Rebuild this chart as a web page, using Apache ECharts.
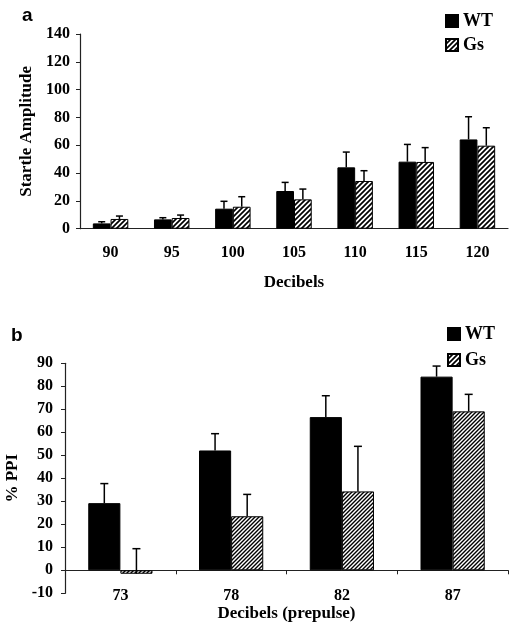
<!DOCTYPE html>
<html>
<head>
<meta charset="utf-8">
<script src="https://cdn.jsdelivr.net/npm/echarts@6/dist/echarts.min.js"></script>
<style>
html,body{margin:0;padding:0;background:#fff;}
#chart{width:518px;height:633px;}
</style>
</head>
<body>
<div id="chart"></div>
<script>
// Panel a: startle amplitude
var catsA = ['90', '95', '100', '105', '110', '115', '120'];
var wtA = [3.8, 6.7, 14.4, 27.1, 44.1, 48.2, 64.2];
var wtAse = [1.2, 1.2, 5.3, 6.2, 11.0, 12.4, 16.3];
var gsA = [7.0, 7.7, 15.8, 21.1, 34.3, 48.0, 59.7];
var gsAse = [2.1, 2.1, 7.2, 7.4, 7.4, 10.3, 12.9];
var ticksA = [0, 140, 20];

// Panel b: % PPI
var catsB = ['73', '78', '82', '87'];
var wtB = [29.2, 52.1, 66.6, 84.2];
var wtBse = [8.5, 7.3, 9.3, 4.6];
var gsB = [-1.5, 23.5, 34.3, 69.1];
var gsBse = [10.9, 9.5, 19.6, 7.4];
var ticksB = [-10, 90, 10];

var SERIF = '"Liberation Serif", "Times New Roman", serif';
var BW = 0.29;

function hatch(size, lw) {
  var c = document.createElement('canvas');
  c.width = size; c.height = size;
  var ctx = c.getContext('2d');
  ctx.fillStyle = '#fff';
  ctx.fillRect(0, 0, size, size);
  ctx.strokeStyle = '#000';
  ctx.lineWidth = lw;
  ctx.beginPath();
  ctx.moveTo(0, size); ctx.lineTo(size, 0);
  ctx.moveTo(-size, size); ctx.lineTo(size, -size);
  ctx.moveTo(0, 2 * size); ctx.lineTo(2 * size, 0);
  ctx.stroke();
  return c;
}
var patA = {image: hatch(5, 1.7), repeat: 'repeat'};
var patB = {image: hatch(4, 1.4), repeat: 'repeat'};

function errSeries(name, idx, vals, ses, side, cap) {
  var data = vals.map(function (v, i) { return [i, v, v + ses[i]]; });
  return {
    type: 'custom', name: name + ' err', xAxisIndex: idx, yAxisIndex: idx, z: 5,
    silent: true,
    encode: {x: 0, y: [1, 2]},
    data: data,
    renderItem: function (params, api) {
      var band = api.size([1, 0])[0];
      var bw = band * BW;
      var p0 = api.coord([api.value(0), api.value(1)]);
      var p1 = api.coord([api.value(0), api.value(2)]);
      var x = p0[0] + side * bw / 2;
      var st = {stroke: '#000', lineWidth: 1.5};
      return {
        type: 'group',
        children: [
          {type: 'line', shape: {x1: x, y1: p0[1], x2: x, y2: p1[1]}, style: st},
          {type: 'line', shape: {x1: x - cap / 2, y1: p1[1], x2: x + cap / 2, y2: p1[1]}, style: st}
        ]
      };
    }
  };
}

var labelStyle = {color: '#000', fontFamily: SERIF, fontWeight: 'bold', fontSize: 16};
var nameStyle = {color: '#000', fontFamily: SERIF, fontWeight: 'bold', fontSize: 17};
var lineStyle = {color: '#222', width: 1.2};
var legendText = {color: '#000', fontFamily: SERIF, fontWeight: 'bold', fontSize: 18};

var option = {
  animation: false,
  backgroundColor: '#fff',
  title: [
    {text: 'a', left: 17, top: 1, textStyle: {fontFamily: '"Liberation Sans", Arial, sans-serif', fontWeight: 'bold', fontSize: 19, color: '#000'}},
    {text: 'b', left: 6, top: 321, textStyle: {fontFamily: '"Liberation Sans", Arial, sans-serif', fontWeight: 'bold', fontSize: 19, color: '#000'}}
  ],
  legend: [
    {data: ['WT', 'Gs'], orient: 'vertical', left: 445, top: 12, padding: 0, itemWidth: 12, itemHeight: 12, itemGap: 6,
     icon: 'rect', textStyle: legendText, selectedMode: false},
    {data: ['WT', 'Gs'], orient: 'vertical', left: 447, top: 325, padding: 0, itemWidth: 12, itemHeight: 12, itemGap: 8,
     icon: 'rect', textStyle: legendText, selectedMode: false}
  ],
  grid: [
    {left: 80, right: 10, top: 34, height: 194.7, outerBoundsMode: 'none', containLabel: false},
    {left: 65, right: 10, top: 363.3, height: 230, outerBoundsMode: 'none', containLabel: false}
  ],
  xAxis: [
    {type: 'category', gridIndex: 0, data: catsA,
     axisLine: {lineStyle: lineStyle}, axisTick: {show: false},
     axisLabel: Object.assign({margin: 16}, labelStyle),
     name: 'Decibels', nameLocation: 'middle', nameGap: 45, nameTextStyle: nameStyle},
    {type: 'category', gridIndex: 1, data: catsB,
     axisLine: {onZero: true, lineStyle: lineStyle}, axisTick: {show: true, length: 4, lineStyle: {color: '#222'}},
     axisLabel: Object.assign({margin: -5}, labelStyle),
     name: 'Decibels (prepulse)', nameLocation: 'middle', nameGap: 12, nameTextStyle: nameStyle}
  ],
  yAxis: [
    {type: 'value', gridIndex: 0, min: ticksA[0], max: ticksA[1], interval: ticksA[2],
     axisLine: {show: true, lineStyle: lineStyle}, axisTick: {show: true, length: 4, lineStyle: {color: '#222'}},
     splitLine: {show: false}, axisLabel: Object.assign({margin: 10}, labelStyle),
     name: 'Startle Amplitude', nameLocation: 'middle', nameGap: 41, nameRotate: 90, nameTextStyle: nameStyle},
    {type: 'value', gridIndex: 1, min: ticksB[0], max: ticksB[1], interval: ticksB[2],
     axisLine: {show: true, onZero: false, lineStyle: lineStyle}, axisTick: {show: true, length: 4, lineStyle: {color: '#222'}},
     splitLine: {show: false}, axisLabel: Object.assign({margin: 12}, labelStyle),
     name: '% PPI', nameLocation: 'middle', nameGap: 41, nameRotate: 90, nameTextStyle: nameStyle}
  ],
  series: [
    {type: 'bar', name: 'WT', xAxisIndex: 0, yAxisIndex: 0, data: wtA, barWidth: '29%', barGap: '0%',
     itemStyle: {color: '#000', borderColor: '#000', borderWidth: 1}},
    {type: 'bar', name: 'Gs', xAxisIndex: 0, yAxisIndex: 0, data: gsA, barWidth: '29%', barGap: '0%',
     itemStyle: {color: patA, borderColor: '#000', borderWidth: 1}},
    {type: 'bar', name: 'WT', xAxisIndex: 1, yAxisIndex: 1, data: wtB, barWidth: '29%', barGap: '0%',
     itemStyle: {color: '#000', borderColor: '#000', borderWidth: 1}},
    {type: 'bar', name: 'Gs', xAxisIndex: 1, yAxisIndex: 1, data: gsB, barWidth: '29%', barGap: '0%',
     itemStyle: {color: patB, borderColor: '#000', borderWidth: 1}},
    errSeries('WT', 0, wtA, wtAse, -1, 7),
    errSeries('Gs', 0, gsA, gsAse, 1, 7),
    errSeries('WT', 1, wtB, wtBse, -1, 8),
    errSeries('Gs', 1, gsB, gsBse, 1, 8)
  ]
};

var chart = echarts.init(document.getElementById('chart'), null, {renderer: 'canvas'});
chart.setOption(option);
</script>
</body>
</html>
